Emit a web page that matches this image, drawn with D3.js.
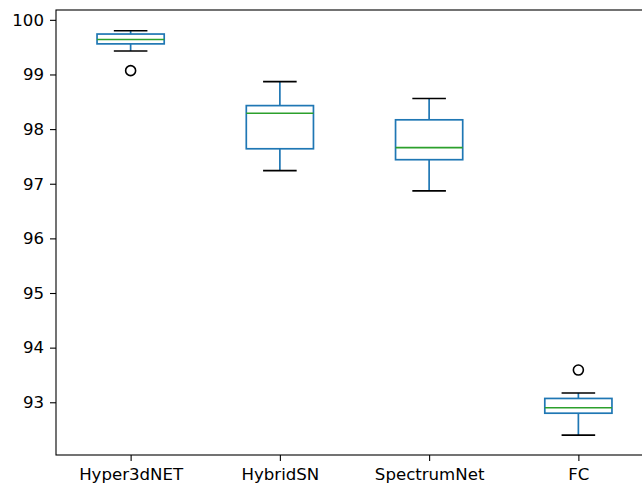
<!DOCTYPE html>
<html><head><meta charset="utf-8">
<script src="https://cdn.jsdelivr.net/npm/d3@7"></script>
<style>body{margin:0;background:#fff}svg{display:block}text{font-family:"DejaVu Sans",sans-serif}</style>
</head><body>
<svg id="c" width="642" height="485"></svg>
<script>
const categories = ["Hyper3dNET", "HybridSN", "SpectrumNet", "FC"];
const whiskerLow = [99.43, 97.24, 96.87, 92.40];
const q1 = [99.56, 97.64, 97.44, 92.80];
const median = [99.64, 98.29, 97.66, 92.90];
const q3 = [99.74, 98.43, 98.17, 93.07];
const whiskerHigh = [99.80, 98.87, 98.56, 93.17];
const outliers = [[99.07], [], [], [93.59]];
const yTicks = [93, 94, 95, 96, 97, 98, 99, 100];

(function () {
const svg = d3.select("#c");
const mLeft = 56, mRight = 653, mTop = 10, mBottom = 455;
const x = d3.scaleLinear().domain([0.5, 4.5]).range([mLeft, mRight]);
const y = d3.scaleLinear().domain([92.035, 100.18]).range([mBottom, mTop]);
const boxW = (x(1) - x(0)) * 0.45, capW = boxW / 2;
const sw = 1.7;

const g = svg.append("g");
categories.forEach((c, i) => {
  const cx = x(i + 1);
  g.append("line").attr("x1", cx).attr("x2", cx).attr("y1", y(q1[i])).attr("y2", y(whiskerLow[i])).attr("stroke", "#1f77b4").attr("stroke-width", sw);
  g.append("line").attr("x1", cx).attr("x2", cx).attr("y1", y(q3[i])).attr("y2", y(whiskerHigh[i])).attr("stroke", "#1f77b4").attr("stroke-width", sw);
  [whiskerLow[i], whiskerHigh[i]].forEach(v => g.append("line").attr("x1", cx - capW / 2).attr("x2", cx + capW / 2).attr("y1", y(v)).attr("y2", y(v)).attr("stroke", "#000").attr("stroke-width", sw));
  g.append("rect").attr("x", cx - boxW / 2).attr("width", boxW).attr("y", y(q3[i])).attr("height", y(q1[i]) - y(q3[i])).attr("fill", "none").attr("stroke", "#1f77b4").attr("stroke-width", sw);
  g.append("line").attr("x1", cx - boxW / 2).attr("x2", cx + boxW / 2).attr("y1", y(median[i])).attr("y2", y(median[i])).attr("stroke", "#2ca02c").attr("stroke-width", sw);
  outliers[i].forEach(v => g.append("circle").attr("cx", cx).attr("cy", y(v)).attr("r", 5).attr("fill", "none").attr("stroke", "#000").attr("stroke-width", 1.6));
});

const xa = svg.append("g").attr("transform", `translate(0,${mBottom})`)
  .call(d3.axisBottom(x).tickValues([1, 2, 3, 4]).tickFormat((d, i) => categories[i]).tickSize(6).tickPadding(7));
const ya = svg.append("g").attr("transform", `translate(${mLeft},0)`)
  .call(d3.axisLeft(y).tickValues(yTicks).tickSize(6).tickPadding(6));
[xa, ya].forEach(a => {
  a.select(".domain").remove();
  a.selectAll("text").attr("font-size", 16.6).attr("font-family", "DejaVu Sans").attr("fill", "#000");
  a.selectAll("line").attr("stroke", "#000").attr("stroke-width", 1.1);
});
svg.append("rect").attr("x", mLeft).attr("y", mTop).attr("width", mRight - mLeft).attr("height", mBottom - mTop).attr("fill", "none").attr("stroke", "#000").attr("stroke-width", 1.1);
})();
</script>
</body></html>
